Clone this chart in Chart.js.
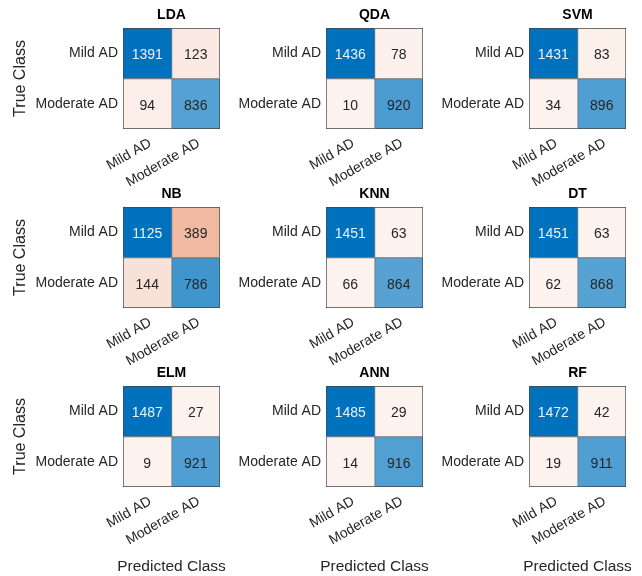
<!DOCTYPE html>
<html>
<head>
<meta charset="utf-8">
<script src="https://cdn.jsdelivr.net/npm/chart.js@4/dist/chart.umd.min.js"></script>
<style>
  html, body { margin: 0; padding: 0; background: #ffffff; }
  #wrap { position: relative; width: 642px; height: 576px; overflow: hidden; }
  #wrap canvas { position: absolute; }
</style>
</head>
<body>
<div id="wrap"></div>
<script>
// Class names shared by both axes
const classLabels = ['Mild AD', 'Moderate AD'];

// Classifier names, one panel each (row-major)
const modelNames = ['LDA', 'QDA', 'SVM', 'NB', 'KNN', 'DT', 'ELM', 'ANN', 'RF'];

// Confusion matrices: rows = true class, columns = predicted class
const LDA = [[1391, 123], [94, 836]];
const QDA = [[1436, 78], [10, 920]];
const SVM = [[1431, 83], [34, 896]];
const NB  = [[1125, 389], [144, 786]];
const KNN = [[1451, 63], [66, 864]];
const DT  = [[1451, 63], [62, 868]];
const ELM = [[1487, 27], [9, 921]];
const ANN = [[1485, 29], [14, 916]];
const RF  = [[1472, 42], [19, 911]];

const matrices = [LDA, QDA, SVM, NB, KNN, DT, ELM, ANN, RF];

const FONT = "'Liberation Sans', Arial, Helvetica, sans-serif";
const DIAG_RGB = [0, 114, 189];
const OFF_RGB = [217, 83, 25];

function shade(rgb, a) {
  const c = rgb.map(v => Math.round(255 + (v - 255) * a));
  return `rgb(${c[0]},${c[1]},${c[2]})`;
}

// Colour strength of a cell relative to the largest count in its matrix
function cellAlpha(m, r, k) {
  const mx = Math.max(...m.flat());
  const f = m[r][k] / mx;
  return r === k ? Math.pow(f, 0.8) : Math.max(0.07, Math.pow(f, 0.85));
}

// Cell counts, panel titles and the shared x-axis caption
const cellTextPlugin = {
  id: 'cellText',
  afterDatasetsDraw(chart) {
    const ctx = chart.ctx;
    const opts = chart.config.options.plugins.cellText;
    const m = opts.matrix;
    ctx.save();
    ctx.font = `14px ${FONT}`;
    ctx.textAlign = 'center';
    ctx.textBaseline = 'middle';
    chart.data.datasets.forEach((ds, k) => {
      chart.getDatasetMeta(k).data.forEach((bar, r) => {
        const p = bar.getProps(['x', 'y', 'base'], true);
        const a = cellAlpha(m, r, k);
        ctx.fillStyle = (r === k && a > 0.8) ? '#e8f1fa' : '#262626';
        ctx.fillText(String(m[r][k]), (p.x + p.base) / 2, p.y + 2);
      });
    });
    const area = chart.chartArea;
    const cx = (area.left + area.right) / 2;
    ctx.font = `bold 14px ${FONT}`;
    ctx.fillStyle = '#000000';
    ctx.fillText(opts.title, cx, area.top - 13);
    if (opts.xCaption) {
      ctx.font = `15.5px ${FONT}`;
      ctx.fillStyle = '#262626';
      ctx.fillText(opts.xCaption, cx, chart.height - 9);
    }
    ctx.restore();
  }
};

const PLOT_LEFT = 123, PLOT_TOP = 28, PLOT_W = 97, PLOT_H = 101;
const COL_STEP = 203, ROW_STEP = 179;
const wrap = document.getElementById('wrap');

matrices.forEach((m, i) => {
  const row = Math.floor(i / 3), col = i % 3;
  const cw = 225;
  const ch = row < 2 ? 205 : 576 - 2 * ROW_STEP;
  const canvas = document.createElement('canvas');
  canvas.width = cw; canvas.height = ch;
  canvas.style.left = (col * COL_STEP) + 'px';
  canvas.style.top = (row * ROW_STEP) + 'px';
  canvas.style.width = cw + 'px'; canvas.style.height = ch + 'px';
  wrap.appendChild(canvas);

  const datasets = classLabels.map((_, k) => ({
    label: classLabels[k],
    data: classLabels.map(() => [k, k + 1]),
    grouped: false,
    barPercentage: 1,
    categoryPercentage: 1,
    backgroundColor: c => shade(c.dataIndex === k ? DIAG_RGB : OFF_RGB, cellAlpha(m, c.dataIndex, k)),
    borderColor: '#454545',
    borderSkipped: false,
    borderWidth: c => ({ left: 1, top: 1, right: k === 1 ? 1 : 0, bottom: c.dataIndex === 1 ? 1 : 0 })
  }));

  new Chart(canvas, {
    type: 'bar',
    data: { labels: classLabels, datasets },
    plugins: [cellTextPlugin],
    options: {
      indexAxis: 'y',
      responsive: false,
      animation: false,
      devicePixelRatio: 1,
      layout: { padding: { top: PLOT_TOP, right: cw - PLOT_LEFT - PLOT_W, left: 0, bottom: 0 } },
      plugins: {
        legend: { display: false },
        tooltip: { enabled: false },
        title: { display: false },
        cellText: { matrix: m, title: modelNames[i], xCaption: row === 2 ? 'Predicted Class' : '' }
      },
      scales: {
        x: { type: 'linear', min: 0, max: 2, display: false },
        xl: {
          type: 'category', axis: 'x', position: 'bottom', labels: classLabels, offset: true,
          grid: { display: false, drawTicks: false }, border: { display: false },
          ticks: { minRotation: 30, maxRotation: 30, padding: 6, labelOffset: 3, color: '#262626', font: { family: FONT, size: 14 } },
          afterFit: s => { s.height = ch - PLOT_TOP - PLOT_H; }
        },
        y: {
          type: 'category', offset: true,
          grid: { display: false, drawTicks: false }, border: { display: false },
          ticks: { padding: 5, color: '#262626', font: { family: FONT, size: 14 } },
          title: { display: col === 0, text: 'True Class', color: '#262626', font: { family: FONT, size: 16 }, padding: { top: 11, bottom: 0 } },
          afterFit: s => { s.width = PLOT_LEFT; }
        }
      }
    }
  });
});
</script>
</body>
</html>
